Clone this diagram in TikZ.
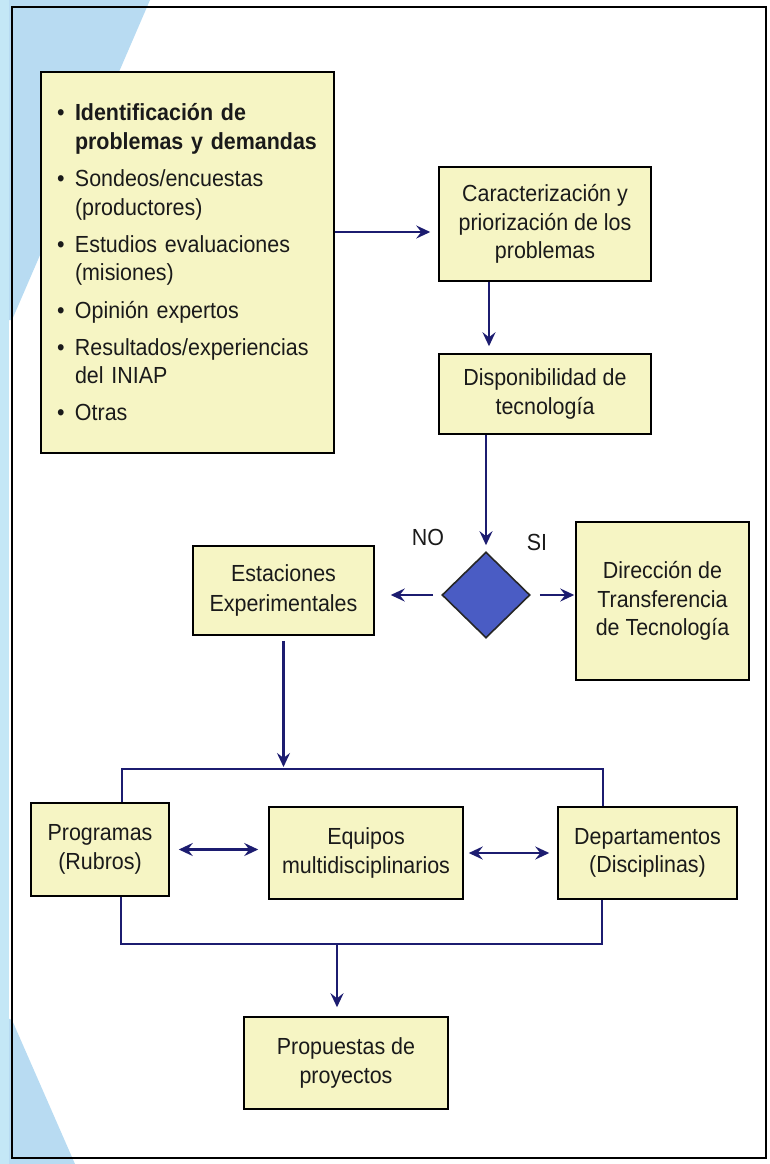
\documentclass[tikz,border=0pt]{standalone}
\usepackage{fontspec}
\setmainfont[FakeStretch=0.92]{Liberation Sans}
\usetikzlibrary{arrows.meta,shapes.geometric,calc}
\definecolor{boxfill}{HTML}{F6F5C4}
\definecolor{arrowc}{HTML}{1C1C70}
\definecolor{diafill}{HTML}{4A5CC4}
\definecolor{bluebg}{HTML}{B8DBF2}
\definecolor{cyanbg}{HTML}{C4E7F6}
\definecolor{txt}{HTML}{1A1A1A}
\newcommand\itembul{\makebox[18pt][l]{•}}
\newcommand\itemind{\hspace*{18pt}}
\begin{document}
\begin{tikzpicture}[x=1pt,y=-1pt,
  box/.style={draw=black, line width=1.5pt, fill=boxfill, text=txt, align=center, inner sep=0pt, font=\fontsize{23.3}{28.5}\selectfont},
  conn/.style={draw=arrowc, line width=2.5pt},
  tip/.tip={Stealth[length=14pt,width=13pt,inset=5pt]},
  arr/.style={conn, -tip},
  darr/.style={conn, tip-tip},
  lbl/.style={text=txt, font=\fontsize{23.3}{25}\selectfont, inner sep=0pt},
  diabox/.style={diamond, draw=black!85, line width=1.6pt, fill=diafill, minimum width=88pt, minimum height=86pt, inner sep=0pt}
]
\useasboundingbox (0,0) rectangle (770,1164);
\fill[white] (0,0) rectangle (770,1164);
% background paper tint
\fill[bluebg] (0,0) -- (150,0) -- (12,320) -- (0,320) -- cycle;
\fill[bluebg] (0,1015) -- (12,1020) -- (75,1164) -- (0,1164) -- cycle;
\fill[cyanbg] (0,0) rectangle (9,1164);
% frame
\draw[line width=2pt, black] (12,7) rectangle (766,1158);

% nodes
\node[box, minimum width=293pt, minimum height=381pt, text width=261pt, align=left] (id) at (187.5,262.5) {%
\itembul\textbf{Identificación de}\\
\itemind\textbf{problemas y demandas}\\[8.7pt]
\itembul Sondeos/encuestas\\
\itemind (productores)\\[8.7pt]
\itembul Estudios evaluaciones\\
\itemind (misiones)\\[8.7pt]
\itembul Opinión expertos\\[8.7pt]
\itembul Resultados/experiencias\\
\itemind del INIAP\\[8.7pt]
\itembul Otras};

\node[box, minimum width=212pt, minimum height=114pt] (car) at (545,224) {Caracterización y\\priorización de los\\problemas};
\node[box, minimum width=212pt, minimum height=80pt] (dis) at (545,394) {Disponibilidad de\\tecnología};
\node[diabox] (dia) at (486,595) {};
\node[lbl] (no) at (428,537) {NO};
\node[lbl] (si) at (537,542) {SI};
\node[box, minimum width=181pt, minimum height=89pt, font=\fontsize{23.3}{30}\selectfont] (est) at (283.5,590.5) {Estaciones\\Experimentales};
\node[box, minimum width=173pt, minimum height=158pt] (dir) at (662.5,601) {Dirección de\\Transferencia\\de Tecnología};
\node[box, minimum width=138pt, minimum height=93pt] (prog) at (100,849.5) {Programas\\(Rubros)};
\node[box, minimum width=194pt, minimum height=92pt] (equ) at (366,853) {Equipos\\multidisciplinarios};
\node[box, minimum width=179pt, minimum height=92pt] (dep) at (647.5,853) {Departamentos\\(Disciplinas)};
\node[box, minimum width=204pt, minimum height=92pt] (prop) at (346,1063) {Propuestas de\\proyectos};

% bar coordinates
\coordinate (tbL) at (122,769);
\coordinate (tbR) at (603,769);
\coordinate (bbL) at (121,944);
\coordinate (bbR) at (602,944);
\coordinate (bbM) at (337,944);

% connectors
\draw[arr, shorten >=8pt] ([yshift=-8pt]id.east |- car.west) -- ([yshift=-8pt]car.west);
\draw[arr, shorten >=7pt] ([xshift=-56pt]car.south) -- ([xshift=-56pt]car.south |- dis.north);
\draw[arr, shorten >=6pt] (dis.south -| dia.north) -- (dia.north);
\draw[arr, shorten <=8pt, shorten >=16pt] (dia.west) -- (est.east |- dia.west);
\draw[arr, shorten <=9pt, shorten >=1pt] (dia.east) -- (dir.west |- dia.east);
\draw[arr, shorten <=5pt, shorten >=2pt] (est.south) -- (est.south |- tbL);
\draw[conn, line width=2pt] (tbL |- prog.north) -- (tbL) -- (tbR) -- (tbR |- dep.north);
\draw[conn, line width=2pt] (bbL |- prog.south) -- (bbL) -- (bbR) -- (bbR |- dep.south);
\draw[arr, shorten >=9pt] (bbM) -- (bbM |- prop.north);
\draw[darr, shorten <=9pt, shorten >=10pt] (prog.east) -- (equ.west |- prog.east);
\draw[darr, shorten <=5pt, shorten >=8pt] (equ.east) -- (dep.west);
\end{tikzpicture}
\end{document}
